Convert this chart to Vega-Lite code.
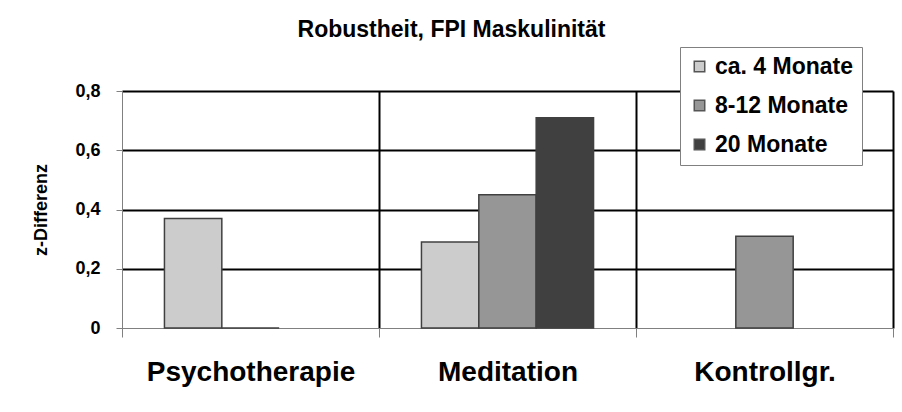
{
  "$schema": "https://vega.github.io/schema/vega-lite/v6.json",
  "autosize": "none",
  "width": 771,
  "height": 237,
  "padding": {"left": 122, "top": 91, "right": 9, "bottom": 84},
  "background": "white",
  "title": {
    "text": "Robustheit, FPI Maskulinität",
    "font": "Liberation Sans",
    "fontSize": 23,
    "fontWeight": "bold",
    "color": "black",
    "anchor": "middle",
    "dx": -56,
    "offset": 5
  },
  "data": {
    "values": [
      {"gruppe": "Psychotherapie", "zeit": "ca. 4 Monate", "wert": 0.37},
      {"gruppe": "Psychotherapie", "zeit": "8-12 Monate", "wert": 0.0},
      {"gruppe": "Meditation", "zeit": "ca. 4 Monate", "wert": 0.29},
      {"gruppe": "Meditation", "zeit": "8-12 Monate", "wert": 0.45},
      {"gruppe": "Meditation", "zeit": "20 Monate", "wert": 0.71},
      {"gruppe": "Kontrollgr.", "zeit": "8-12 Monate", "wert": 0.31}
    ]
  },
  "mark": {"type": "bar", "stroke": "#404040", "strokeWidth": 1.5},
  "encoding": {
    "x": {
      "field": "gruppe",
      "type": "nominal",
      "sort": ["Psychotherapie", "Meditation", "Kontrollgr."],
      "scale": {"paddingInner": 0, "paddingOuter": 0},
      "axis": {
        "title": null,
        "labelAngle": 0,
        "labelFont": "Liberation Sans",
        "labelFontSize": 28,
        "labelFontWeight": "bold",
        "labelColor": "black",
        "labelPadding": 21,
        "labelLimit": 400,
        "tickBand": "extent",
        "tickSize": 9,
        "tickColor": "#808080",
        "domainColor": "#808080",
        "grid": true,
        "gridColor": {"condition": {"test": "datum.extra", "value": "#808080"}, "value": "black"},
        "gridWidth": {"condition": {"test": "datum.extra", "value": 1}, "value": 2},
        "gridOpacity": 1
      }
    },
    "xOffset": {
      "field": "zeit",
      "type": "nominal",
      "scale": {"domain": ["ca. 4 Monate", "8-12 Monate", "20 Monate"], "paddingInner": 0, "paddingOuter": 0.74}
    },
    "y": {
      "field": "wert",
      "type": "quantitative",
      "scale": {"domain": [0, 0.8], "nice": false},
      "axis": {
        "title": "z-Differenz",
        "titleFont": "Liberation Sans",
        "titleFontSize": 18,
        "titleFontWeight": "bold",
        "titleColor": "black",
        "titlePadding": 24,
        "values": [0, 0.2, 0.4, 0.6, 0.8],
        "labelExpr": "datum.value == 0 ? '0' : replace(format(datum.value, '.1f'), '.', ',')",
        "labelFont": "Liberation Sans",
        "labelFontSize": 18,
        "labelFontWeight": "bold",
        "labelColor": "black",
        "labelPadding": 16,
        "tickSize": 6,
        "tickColor": "#808080",
        "domainColor": "#808080",
        "grid": true,
        "gridColor": {"condition": {"test": "datum.value === 0", "value": "#808080"}, "value": "black"},
        "gridWidth": {"condition": {"test": "datum.value === 0", "value": 1}, "value": 2},
        "gridOpacity": 1
      }
    },
    "color": {
      "field": "zeit",
      "type": "nominal",
      "scale": {"domain": ["ca. 4 Monate", "8-12 Monate", "20 Monate"], "range": ["#cccccc", "#969696", "#404040"]},
      "legend": {
        "title": null,
        "orient": "none",
        "legendX": 558,
        "legendY": -44,
        "fillColor": "white",
        "strokeColor": "#808080",
        "padding": 8,
        "symbolType": "square",
        "symbolSize": 110,
        "symbolStrokeColor": "#555555",
        "symbolStrokeWidth": 1.5,
        "symbolOpacity": 1,
        "labelFont": "Liberation Sans",
        "labelFontSize": 23,
        "labelFontWeight": "bold",
        "labelColor": "black",
        "labelOffset": 4,
        "rowPadding": 15
      }
    }
  },
  "config": {
    "view": {"stroke": null},
    "axis": {"labelFlush": false, "labelOverlap": false}
  }
}
